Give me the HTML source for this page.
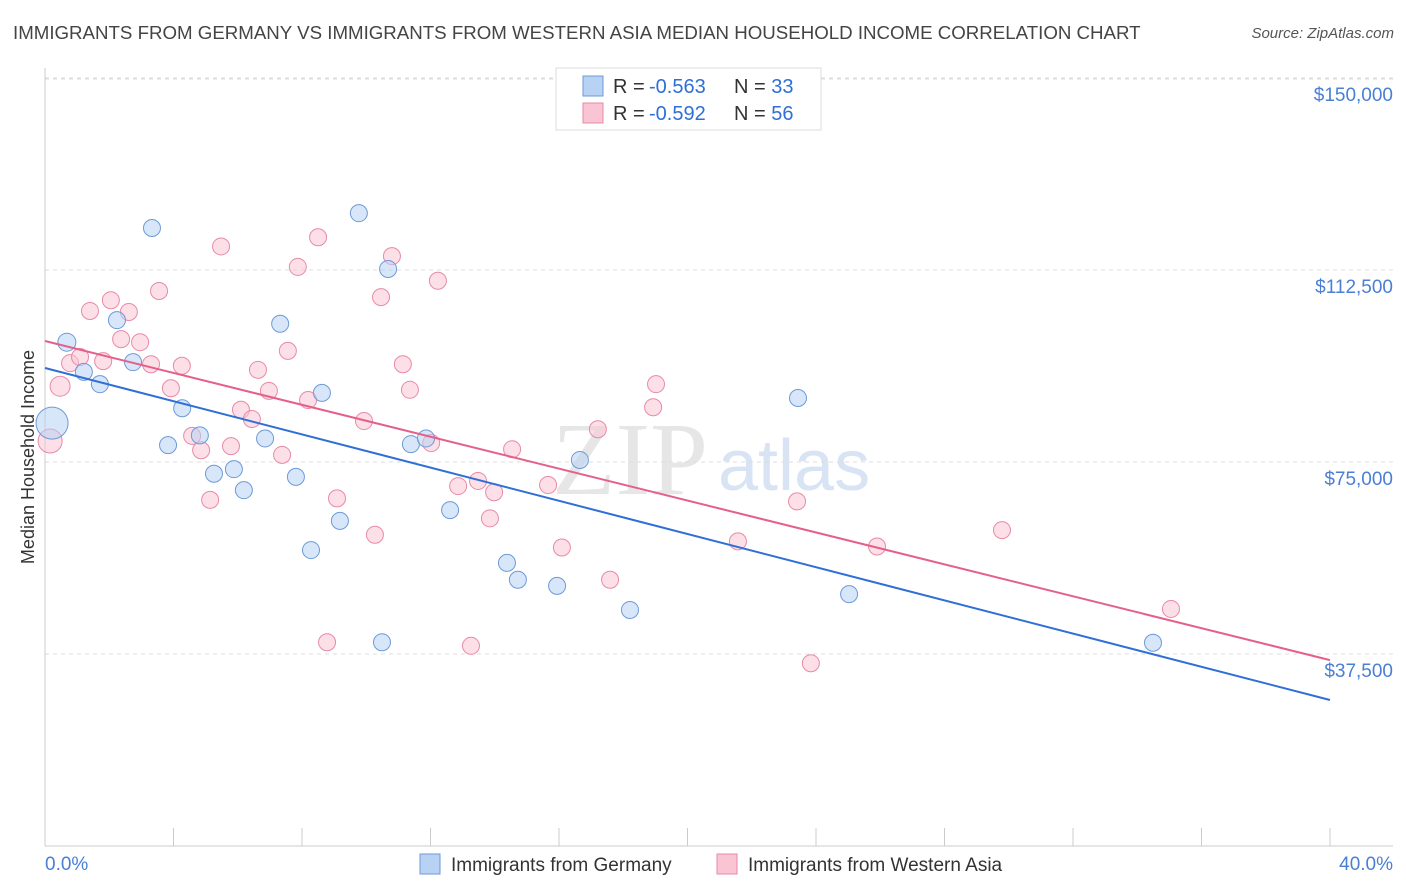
<!DOCTYPE html>
<html><head><meta charset="utf-8">
<style>
body{margin:0;background:#fff;font-family:"Liberation Sans",sans-serif;}
#wrap{position:relative;width:1406px;height:892px;overflow:hidden;}
.title{position:absolute;left:13px;top:22px;font-size:18.7px;color:#444;white-space:nowrap;}
.source{position:absolute;right:12px;top:25px;font-size:15px;color:#555;font-style:italic;}
</style></head><body>
<div id="wrap">
<div class="title">IMMIGRANTS FROM GERMANY VS IMMIGRANTS FROM WESTERN ASIA MEDIAN HOUSEHOLD INCOME CORRELATION CHART</div>
<div class="source">Source: ZipAtlas.com</div>
<svg id="svg" width="1406" height="892" style="position:absolute;left:0;top:0"></svg>
</div>
<script>
const xTicks=[0,4,8,12,16,20,24,28,32,36,40];
const yTicks=[37500,75000,112500,150000];
const yTickLabels=["$37,500","$75,000","$112,500","$150,000"];
const germanyX=[0.68,1.21,1.71,2.24,2.74,3.33,3.83,4.27,4.82,5.26,5.88,6.19,6.85,7.32,7.81,8.28,8.62,9.18,9.77,10.49,10.68,11.39,11.86,12.61,14.38,14.72,15.94,16.65,18.21,23.44,25.03,34.49,0.22];
const germanyY=[98400,92600,90200,102700,94500,120700,78300,85500,80200,72700,73600,69500,79600,102000,72100,57800,88500,63500,123600,39800,112700,78500,79600,65600,55300,52000,50800,75400,46100,87500,49200,39700,82600];
const germanyR=[9,8.5,8.5,8.5,8.5,8.5,8.5,8.5,8.5,8.5,8.5,8.5,8.5,8.5,8.5,8.5,8.5,8.5,8.5,8.5,8.5,8.5,8.5,8.5,8.5,8.5,8.5,8.5,8.5,8.5,8.5,8.5,16];
const asiaX=[0.16,0.47,0.78,1.09,1.40,1.81,2.05,2.37,2.61,2.96,3.30,3.55,3.92,4.26,4.58,4.86,5.14,5.48,5.79,6.10,6.44,6.63,6.97,7.38,7.56,7.87,8.19,8.50,8.78,9.09,9.93,10.27,10.46,10.80,11.14,11.36,12.02,12.23,12.86,13.26,13.48,13.85,13.98,14.54,15.66,16.09,17.21,17.59,18.93,19.02,21.57,23.41,23.84,25.90,29.79,35.05];
const asiaY=[79100,89800,94300,95500,104500,94700,106600,99000,104300,98400,94100,108400,89400,93800,80100,77300,67600,117100,78100,85200,83400,93000,88900,76400,96700,113100,87100,118900,39800,67900,83000,60800,107200,115200,94100,89100,78700,110400,70300,39100,71300,64000,69100,77500,70500,58300,81400,52000,85700,90200,59500,67300,35700,58500,61700,46300];
const asiaR=[12,10,8.5,8.5,8.5,8.5,8.5,8.5,8.5,8.5,8.5,8.5,8.5,8.5,8.5,8.5,8.5,8.5,8.5,8.5,8.5,8.5,8.5,8.5,8.5,8.5,8.5,8.5,8.5,8.5,8.5,8.5,8.5,8.5,8.5,8.5,8.5,8.5,8.5,8.5,8.5,8.5,8.5,8.5,8.5,8.5,8.5,8.5,8.5,8.5,8.5,8.5,8.5,8.5,8.5,8.5];
const trendGermany=[93360,-1621];
const trendAsia=[98630,-1558];
const X=v=>45+v*32.125, Y=v=>846-v*192/37500;
const svg=document.getElementById('svg');const NS='http://www.w3.org/2000/svg';
function mk(t,a,p){const e=document.createElementNS(NS,t);for(const k in a)e.setAttribute(k,a[k]);(p||svg).appendChild(e);return e;}
let w=mk('text',{x:552,y:494,'font-size':104,fill:'#e6e6e6','font-family':'Liberation Serif,serif'});w.textContent='ZIP';


let w2=mk('text',{x:718,y:490,'font-size':72,fill:'#d8e4f4','font-family':'Liberation Sans,sans-serif'});w2.textContent='atlas';


yTicks.forEach((t,i)=>{const g=mk('line',{x1:45,x2:1393,y1:Y(t),y2:Y(t),stroke:'#ddd','stroke-dasharray':'4,4'});


const l=mk('text',{x:1393,y:Y(t)+23,'text-anchor':'end','font-size':19,fill:'#4a7fd4'});l.textContent=yTickLabels[i];

});
const topGrid=mk('line',{x1:45,x2:1393,y1:79,y2:79,stroke:'#ddd','stroke-dasharray':'4,4'});


const ax=mk('line',{x1:45,x2:45,y1:68,y2:846,stroke:'#ccc'});


const bx=mk('line',{x1:45,x2:1393,y1:846,y2:846,stroke:'#ccc'});


xTicks.forEach(t=>{const k=mk('line',{x1:X(t),x2:X(t),y1:828,y2:846,stroke:'#ccc'});

});
[[0,'0.0%',45,'start'],[40,'40.0%',1393,'end']].forEach(d=>{const l=mk('text',{x:d[2],y:870,'text-anchor':d[3],'font-size':19,fill:'#4a7fd4'});l.textContent=d[1];

});
const yt=mk('text',{x:0,y:0,'font-size':18,fill:'#333','text-anchor':'middle',transform:'translate(34,457) rotate(-90)'});yt.textContent='Median Household Income';


function pts(xs,ys,rs,fill,stroke,name){xs.forEach((x,i)=>{const c=mk('circle',{cx:X(x),cy:Y(ys[i]),r:rs[i],fill:fill,'fill-opacity':0.55,stroke:stroke,'stroke-width':1});

});}
pts(asiaX,asiaY,asiaR,'#f9c4d4','#e88aa8','point-western-asia');
pts(germanyX,germanyY,germanyR,'#b8d2f4','#6d9ad8','point-germany');
const tg=mk('line',{x1:X(0),y1:Y(trendGermany[0]),x2:X(40),y2:Y(trendGermany[0]+40*trendGermany[1]),stroke:'#2f6fd6','stroke-width':2});


const ta=mk('line',{x1:X(0),y1:Y(trendAsia[0]),x2:X(40),y2:Y(trendAsia[0]+40*trendAsia[1]),stroke:'#e4608a','stroke-width':2});


const lb=mk('rect',{x:556,y:68,width:265,height:62,fill:'#fff',stroke:'#ddd'});


[[86,'#b8d2f4','#6d9ad8','-0.563','33'],[113,'#f9c4d4','#e88aa8','-0.592','56']].forEach(r=>{
const s=mk('rect',{x:583,y:r[0]-10,width:20,height:20,fill:r[1],stroke:r[2]});


const t=mk('text',{x:613,y:r[0]+7,'font-size':20,fill:'#333'});
t.innerHTML='R = <tspan x="649" fill="#2f6fd6">'+r[3]+'</tspan><tspan x="734">N = </tspan><tspan fill="#2f6fd6">'+r[4]+'</tspan>';

});
[[420,'#b8d2f4','#6d9ad8','Immigrants from Germany'],[717,'#f9c4d4','#e88aa8','Immigrants from Western Asia']].forEach(r=>{
const s=mk('rect',{x:r[0],y:854,width:20,height:20,fill:r[1],stroke:r[2]});


const t=mk('text',{x:r[0]+31,y:871,'font-size':19,fill:'#333'});t.textContent=r[3];

});
</script>
</body></html>
